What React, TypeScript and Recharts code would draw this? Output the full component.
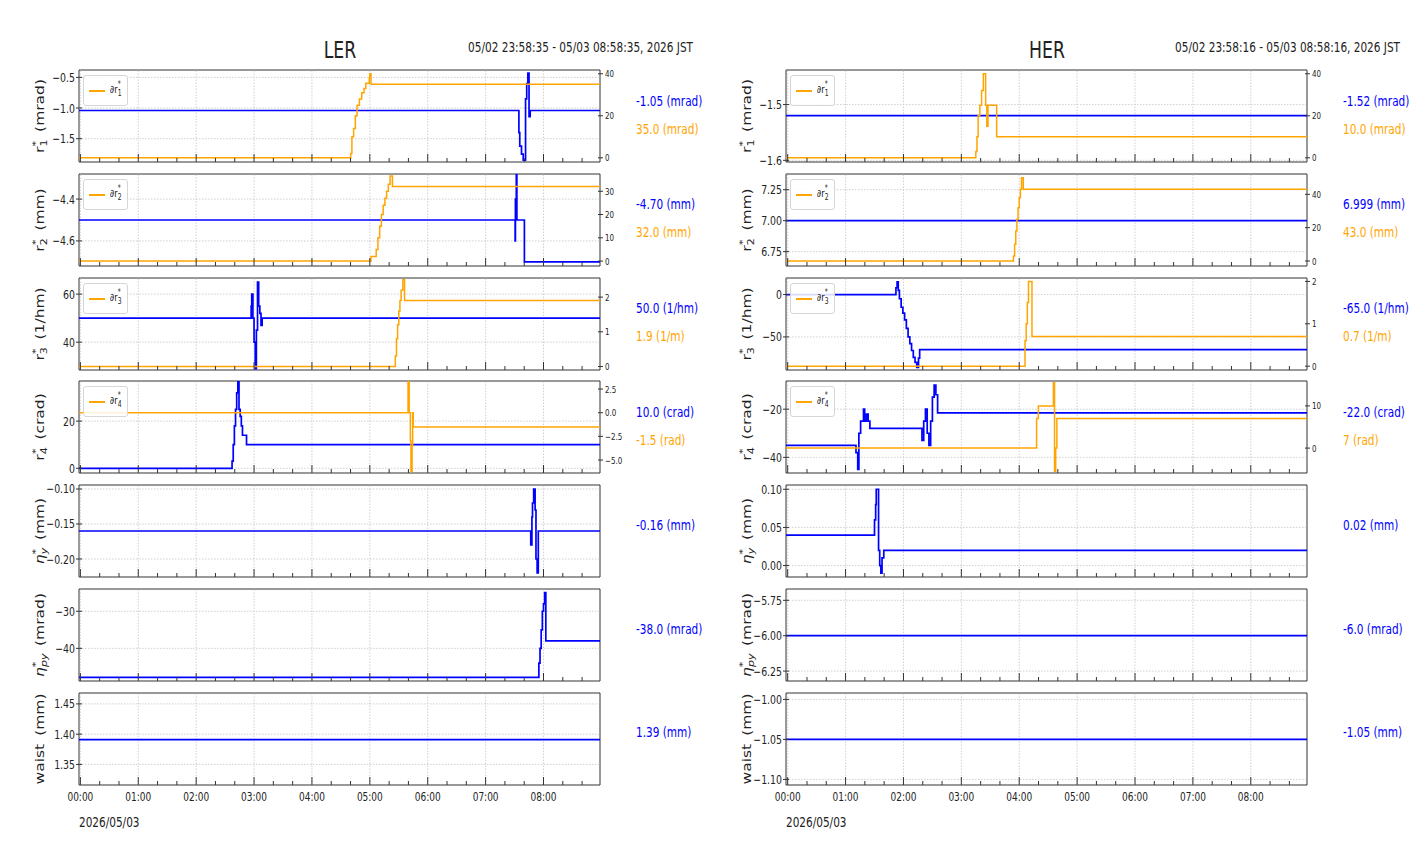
import React from "react";
import { LineChart, Line, XAxis, YAxis, ReferenceLine, ReferenceArea, Label } from "recharts";

const FONT = "'DejaVu Sans', Verdana, sans-serif";
const SQ = 0.75; // the reference figure is squeezed horizontally
const BLUE = "#0000ff";
const ORANGE = "#ffa500";
const INK = "#222222";
const GRID = "#c4c4c4";

const HOURS = [0, 1, 2, 3, 4, 5, 6, 7, 8];
const HOUR_LABELS = ["00:00", "01:00", "02:00", "03:00", "04:00", "05:00", "06:00", "07:00", "08:00"];
// major ticks every hour, minor every 20 min
const X_TICKS = Array.from({ length: 27 }, (_, i) => i / 3);

// ---- LER : [hour, value] steps ----
const LER_R1 = [[-0.024, -1.04], [7.575, -1.4], [7.59, -1.62], [7.62, -1.75], [7.65, -1.85], [7.69, -0.85], [7.71, -0.6], [7.73, -0.43], [7.75, -1.14], [7.77, -1.04], [8.976, -1.04]];
const LER_DR1 = [[-0.024, 0], [4.67, 2], [4.69, 10], [4.72, 14], [4.75, 20], [4.78, 25], [4.82, 28], [4.86, 31], [4.9, 33], [4.93, 35.5], [4.99, 38], [5.0, 40], [5.02, 35], [8.976, 35]];
const LER_R2 = [[-0.024, -4.5], [7.51, -4.6], [7.515, -4.4], [7.53, -4.28], [7.54, -4.5], [7.67, -4.7], [8.976, -4.7]];
const LER_DR2 = [[-0.024, 0], [5.02, 2], [5.11, 5], [5.14, 10], [5.17, 15], [5.2, 20], [5.23, 24], [5.26, 27], [5.29, 30], [5.32, 33], [5.35, 36.5], [5.39, 32], [8.976, 32]];
const LER_R3 = [[-0.024, 50], [2.95, 55], [2.96, 60], [2.98, 50], [3.0, 40], [3.02, 29], [3.04, 45], [3.06, 65], [3.08, 55], [3.1, 52], [3.12, 47], [3.14, 50], [8.976, 50]];
const LER_DR3 = [[-0.024, 0], [5.44, 0.3], [5.46, 0.8], [5.48, 1.2], [5.5, 1.6], [5.52, 1.9], [5.54, 2.2], [5.57, 2.5], [5.6, 1.9], [8.976, 1.9]];
const LER_R4 = [[-0.024, 0], [2.62, 3], [2.64, 10], [2.66, 18], [2.68, 25], [2.7, 32], [2.72, 37], [2.74, 25], [2.76, 22], [2.78, 18], [2.8, 14], [2.87, 10], [8.976, 10]];
const LER_DR4 = [[-0.024, 0], [5.66, 3.4], [5.68, 0], [5.7, -3], [5.71, -6.2], [5.73, -3.5], [5.74, 0], [5.75, -1.5], [8.976, -1.5]];
const LER_ETAY = [[-0.024, -0.16], [7.78, -0.18], [7.8, -0.14], [7.81, -0.12], [7.83, -0.1], [7.855, -0.13], [7.87, -0.2], [7.89, -0.22], [7.91, -0.16], [8.976, -0.16]];
const LER_ETAPY = [[-0.024, -47.8], [7.92, -44], [7.94, -40], [7.96, -35], [7.98, -30], [8.0, -28], [8.02, -25], [8.04, -38], [8.976, -38]];
const LER_WAIST = [[-0.024, 1.391], [8.976, 1.391]];

// ---- HER ----
const HER_R1 = [[-0.029, -1.52], [8.971, -1.52]];
const HER_DR1 = [[-0.029, 0], [3.25, 3], [3.27, 10], [3.29, 20], [3.32, 25], [3.35, 32], [3.38, 40], [3.42, 25], [3.44, 15], [3.46, 25], [3.61, 10], [8.971, 10]];
const HER_R2 = [[-0.029, 7.0], [8.971, 7.0]];
const HER_DR2 = [[-0.029, 0], [3.9, 3], [3.92, 10], [3.94, 18], [3.96, 25], [3.98, 32], [4.0, 38], [4.02, 43], [4.04, 50], [4.07, 43], [8.971, 43]];
const HER_R3 = [[-0.029, 0], [1.87, 8], [1.89, 15], [1.91, 5], [1.93, -5], [1.96, -15], [1.99, -22], [2.02, -30], [2.05, -40], [2.08, -50], [2.11, -58], [2.14, -66], [2.17, -74], [2.2, -80], [2.23, -86], [2.26, -75], [2.28, -65], [8.971, -65]];
const HER_DR3 = [[-0.029, 0], [4.1, 0.6], [4.12, 1.0], [4.14, 1.5], [4.16, 2.0], [4.22, 0.7], [8.971, 0.7]];
const HER_R4 = [[-0.029, -35], [1.18, -38], [1.21, -45], [1.23, -30], [1.26, -25], [1.31, -20], [1.33, -25], [1.36, -22], [1.39, -25], [1.42, -28], [2.32, -33], [2.35, -25], [2.38, -20], [2.41, -30], [2.44, -35], [2.47, -25], [2.5, -15], [2.53, -10], [2.56, -14], [2.59, -21.5], [8.971, -21.5]];
const HER_DR4 = [[-0.029, 0], [4.3, 7], [4.33, 10], [4.59, 15.5], [4.61, -5.5], [4.63, 0], [4.65, 7], [8.971, 7]];
const HER_ETAY = [[-0.029, 0.04], [1.5, 0.06], [1.52, 0.08], [1.53, 0.1], [1.57, 0.02], [1.59, 0.0], [1.61, -0.01], [1.63, 0.01], [1.66, 0.02], [8.971, 0.02]];
const HER_ETAPY = [[-0.029, -6.0], [8.971, -6.0]];
const HER_WAIST = [[-0.029, -1.05], [8.971, -1.05]];

// ---- axes / labels ----
const Y_LABELS = [
  { sym: "r", sub: "1", unit: "mrad" },
  { sym: "r", sub: "2", unit: "mm" },
  { sym: "r", sub: "3", unit: "1/hm" },
  { sym: "r", sub: "4", unit: "crad" },
  { sym: "η", sub: "y", unit: "mm" },
  { sym: "η", sub: "py", unit: "mrad" },
  { sym: "waist", sub: "", unit: "mm" },
];

const LER_LEFT_TICKS = [[-1.5, -1.0, -0.5], [-4.6, -4.4], [40, 60], [0, 20], [-0.2, -0.15, -0.1], [-40, -30], [1.35, 1.4, 1.45]];
const LER_LEFT_DEC = [1, 1, 0, 0, 2, 0, 2];
const LER_LEFT_DOMAIN = [[-1.88, -0.38], [-4.72, -4.28], [28.4, 66.7], [-2, 37], [-0.2257, -0.0943], [-48.8, -24], [1.316, 1.468]];
const LER_RIGHT_TICKS = [[0, 20, 40], [0, 10, 20, 30], [0, 1, 2], [-5, -2.5, 0, 2.5]];
const LER_RIGHT_DEC = [0, 0, 0, 1];
const LER_RIGHT_DOMAIN = [[-2, 41.8], [-2.1, 37.4], [-0.1, 2.55], [-6.37, 3.35]];
const LER_VALUES = ["-1.05 (mrad)", "-4.70 (mm)", "50.0 (1/hm)", "10.0 (crad)", "-0.16 (mm)", "-38.0 (mrad)", "1.39 (mm)"];
const LER_DVALUES = ["35.0 (mrad)", "32.0 (mm)", "1.9 (1/m)", "-1.5 (rad)"];

const HER_LEFT_TICKS = [[-1.6, -1.5], [6.75, 7.0, 7.25], [-50, 0], [-40, -20], [0, 0.05, 0.1], [-6.25, -6.0, -5.75], [-1.1, -1.05, -1.0]];
const HER_LEFT_DEC = [1, 2, 0, 0, 2, 2, 2];
const HER_LEFT_DOMAIN = [[-1.603, -1.438], [6.634, 7.377], [-89, 19.5], [-46.5, -8.3], [-0.015, 0.1056], [-6.32, -5.67], [-1.107, -0.992]];
const HER_RIGHT_TICKS = [[0, 20, 40], [0, 20, 40], [0, 1, 2], [0, 10]];
const HER_RIGHT_DEC = [0, 0, 0, 0];
const HER_RIGHT_DOMAIN = [[-2, 41.8], [-3, 52.2], [-0.09, 2.08], [-5.9, 15.9]];
const HER_VALUES = ["-1.52 (mrad)", "6.999 (mm)", "-65.0 (1/hm)", "-22.0 (crad)", "0.02 (mm)", "-6.0 (mrad)", "-1.05 (mm)"];
const HER_DVALUES = ["10.0 (mrad)", "43.0 (mm)", "0.7 (1/m)", "7 (rad)"];

const COLUMNS = [
  {
    name: "LER", range: "05/02 23:58:35 - 05/03 08:58:35, 2026 JST", left: 0, domain: [-0.024, 8.976],
    blue: [LER_R1, LER_R2, LER_R3, LER_R4, LER_ETAY, LER_ETAPY, LER_WAIST],
    orange: [LER_DR1, LER_DR2, LER_DR3, LER_DR4],
    lt: LER_LEFT_TICKS, ldec: LER_LEFT_DEC, ld: LER_LEFT_DOMAIN,
    rt: LER_RIGHT_TICKS, rdec: LER_RIGHT_DEC, rd: LER_RIGHT_DOMAIN,
    values: LER_VALUES, dvalues: LER_DVALUES,
  },
  {
    name: "HER", range: "05/02 23:58:16 - 05/03 08:58:16, 2026 JST", left: 707, domain: [-0.029, 8.971],
    blue: [HER_R1, HER_R2, HER_R3, HER_R4, HER_ETAY, HER_ETAPY, HER_WAIST],
    orange: [HER_DR1, HER_DR2, HER_DR3, HER_DR4],
    lt: HER_LEFT_TICKS, ldec: HER_LEFT_DEC, ld: HER_LEFT_DOMAIN,
    rt: HER_RIGHT_TICKS, rdec: HER_RIGHT_DEC, rd: HER_RIGHT_DOMAIN,
    values: HER_VALUES, dvalues: HER_DVALUES,
  },
];

const AXIS_W = 79;
const PLOT_W = 521;
const RIGHT_W = 40;
const PLOT_H = 92;
const FIRST_TOP = 70;
const STEP = 103.8;

const fmt = (v: number, d: number) => v.toFixed(d).replace("-", "\u2212");

function SvgTxt({ x, y, size, anchor = "start", fill = INK, children }: any) {
  return (
    <text transform={`translate(${x},${y}) scale(${SQ},1)`} textAnchor={anchor} fontSize={size} fontFamily={FONT} fill={fill}>
      {children}
    </text>
  );
}

function Txt({ x, y, size, color = INK, align = "left", children }: any) {
  const shift = align === "left" ? "" : align === "right" ? "translateX(-100%) " : "translateX(-50%) ";
  const origin = align === "left" ? "left" : align === "right" ? "right" : "center";
  return (
    <div
      style={{
        position: "absolute", left: x, top: y - size * 0.6, fontFamily: FONT, fontSize: size,
        lineHeight: `${size * 1.2}px`, color, whiteSpace: "nowrap",
        transform: `${shift}scaleX(${SQ})`, transformOrigin: `${origin} center`,
      }}
    >
      {children}
    </div>
  );
}

function XTick({ x, y, payload, showLabel }: any) {
  const h = payload.value;
  const major = Math.abs(h - Math.round(h)) < 1e-6;
  return (
    <g>
      <line x1={x} x2={x} y1={y} y2={y - (major ? 8 : 4)} stroke="#333" strokeWidth={1} />
      {showLabel && major ? (
        <SvgTxt x={x} y={y + 16} size={12} anchor="middle">{HOUR_LABELS[Math.round(h)]}</SvgTxt>
      ) : null}
    </g>
  );
}

function LeftTick({ x, y, payload, dec }: any) {
  return (
    <g>
      <line x1={x - 3} x2={x + 3} y1={y} y2={y} stroke="#333" strokeWidth={1} />
      <SvgTxt x={x - 4} y={y + 4.5} size={12.5} anchor="end">{fmt(payload.value, dec)}</SvgTxt>
    </g>
  );
}

function RightTick({ x, y, payload, dec }: any) {
  return (
    <g>
      <line x1={x - 2} x2={x + 3} y1={y} y2={y} stroke="#333" strokeWidth={1} />
      <SvgTxt x={x + 5} y={y + 3.5} size={9.5} anchor="start">{fmt(payload.value, dec)}</SvgTxt>
    </g>
  );
}

function YLabelText({ viewBox, sym, sub, unit }: any) {
  if (!viewBox) return null;
  const cx = viewBox.x + 40;
  const cy = viewBox.y + viewBox.height / 2;
  const italic = sym === "η" ? "italic" : "normal";
  const subW = 6.8 * sub.length;
  const gap = 8 + Math.max(0, subW - 5.8);
  return (
    <text transform={`translate(${cx},${cy}) scale(${SQ},1) rotate(-90)`} y={5.5} textAnchor="middle" fontFamily={FONT} fontSize={15.5} fill={INK}>
      {sym === "waist" ? (
        <tspan>waist</tspan>
      ) : (
        <>
          <tspan fontStyle={italic}>{sym}</tspan>
          <tspan fontSize={11} fontStyle={italic} dy={4}>{sub}</tspan>
          <tspan fontSize={11} dx={-subW} dy={-11}>*</tspan>
        </>
      )}
      <tspan dx={sym === "waist" ? 8 : gap} dy={sym === "waist" ? 0 : 7}>({unit})</tspan>
    </text>
  );
}

function Panel({ c, i }: any) {
  const last = i === 6;
  const xh = last ? 44 : 9;
  const top = FIRST_TOP + i * STEP;
  const blue = c.blue[i].map(([t, v]: number[]) => ({ t, v }));
  const orange = i < 4 ? c.orange[i].map(([t, v]: number[]) => ({ t, v })) : null;
  const ld = c.ld[i];
  return (
    <div style={{ position: "absolute", left: c.left, top: top - 6 }}>
      <LineChart width={AXIS_W + PLOT_W + RIGHT_W} height={6 + PLOT_H + xh} margin={{ top: 6, right: 0, bottom: 0, left: 0 }}>
        <XAxis
          xAxisId="x" dataKey="t" type="number" domain={c.domain} ticks={X_TICKS} interval={0}
          allowDataOverflow height={xh} tickSize={0} tickMargin={0} axisLine={false} tickLine={false}
          tick={(p: any) => <XTick {...p} showLabel={last} />}
        />
        <YAxis
          yAxisId="left" orientation="left" type="number" width={AXIS_W} domain={ld} ticks={c.lt[i]} interval={0}
          allowDataOverflow tickSize={0} tickMargin={0} axisLine={false} tickLine={false}
          tick={(p: any) => <LeftTick {...p} dec={c.ldec[i]} />}
        >
          <Label content={(lp: any) => <YLabelText viewBox={lp.viewBox} {...Y_LABELS[i]} />} />
        </YAxis>
        <YAxis
          yAxisId="right" orientation="right" type="number" width={RIGHT_W}
          domain={orange ? c.rd[i] : [0, 1]} ticks={orange ? c.rt[i] : []} interval={0}
          allowDataOverflow tickSize={0} tickMargin={0} axisLine={false} tickLine={false}
          tick={orange ? (p: any) => <RightTick {...p} dec={c.rdec[i]} /> : false}
        />
        {HOURS.map((h) => (
          <ReferenceLine key={`gx${h}`} xAxisId="x" yAxisId="left" x={h} stroke={GRID} strokeDasharray="1.5 1.5" strokeWidth={0.8} />
        ))}
        {c.lt[i].map((v: number) => (
          <ReferenceLine key={`gy${v}`} xAxisId="x" yAxisId="left" y={v} stroke={GRID} strokeDasharray="1.5 1.5" strokeWidth={0.8} />
        ))}
        <Line
          xAxisId="x" yAxisId="left" data={blue} dataKey="v" type="stepAfter" stroke={BLUE}
          strokeWidth={1.7} dot={false} activeDot={false} isAnimationActive={false}
        />
        {orange ? (
          <Line
            xAxisId="x" yAxisId="right" data={orange} dataKey="v" type="stepAfter" stroke={ORANGE}
            strokeWidth={1.5} dot={false} activeDot={false} isAnimationActive={false}
          />
        ) : null}
        <ReferenceArea
          xAxisId="x" yAxisId="left" x1={c.domain[0]} x2={c.domain[1]} y1={ld[0]} y2={ld[1]}
          fill="none" fillOpacity={0} stroke="#333" strokeWidth={1} ifOverflow="visible"
        />
      </LineChart>
    </div>
  );
}

function Legend({ c, i }: any) {
  const top = FIRST_TOP + i * STEP;
  const small = { position: "absolute" as const, left: 0, fontSize: 8, lineHeight: "8px" };
  return (
    <div
      style={{
        position: "absolute", left: c.left + AXIS_W + 4, top: top + 5, width: 43, height: 29,
        border: "1px solid #d6d6d6", borderRadius: 3, background: "rgba(255,255,255,0.85)",
      }}
    >
      <div style={{ position: "absolute", left: 5, top: 14, width: 16, height: 2, background: ORANGE }} />
      <div
        style={{
          position: "absolute", left: 26, top: 7, fontFamily: FONT, fontSize: 11, lineHeight: "13px", color: INK,
          whiteSpace: "nowrap", transform: `scaleX(${SQ})`, transformOrigin: "left center",
        }}
      >
        ∂r
        <span style={{ position: "relative", display: "inline-block", width: 6, height: 10 }}>
          <span style={{ ...small, top: -2 }}>*</span>
          <span style={{ ...small, top: 7 }}>{i + 1}</span>
        </span>
      </div>
    </div>
  );
}

function Column({ c }: any) {
  const cx = c.left + AXIS_W + PLOT_W / 2;
  return (
    <>
      <Txt x={cx} y={51} size={23} align="center">{c.name}</Txt>
      <Txt x={c.left + 693} y={47} size={14} align="right">{c.range}</Txt>
      {c.values.map((_: string, i: number) => (
        <Panel key={`p${i}`} c={c} i={i} />
      ))}
      {c.dvalues.map((_: string, i: number) => (
        <Legend key={`l${i}`} c={c} i={i} />
      ))}
      {c.values.map((v: string, i: number) => {
        const top = FIRST_TOP + i * STEP;
        return (
          <Txt key={`v${i}`} x={c.left + 636} y={top + (i < 4 ? 31 : 40)} size={14} color={BLUE}>{v}</Txt>
        );
      })}
      {c.dvalues.map((v: string, i: number) => (
        <Txt key={`d${i}`} x={c.left + 636} y={FIRST_TOP + i * STEP + 59} size={14} color={ORANGE}>{v}</Txt>
      ))}
      <Txt x={c.left + AXIS_W} y={822} size={14}>2026/05/03</Txt>
    </>
  );
}

export default function App() {
  return (
    <div style={{ position: "absolute", left: 0, top: 0, width: 1412, height: 864, background: "#ffffff", overflow: "hidden" }}>
      {COLUMNS.map((c) => (
        <Column key={c.name} c={c} />
      ))}
    </div>
  );
}
